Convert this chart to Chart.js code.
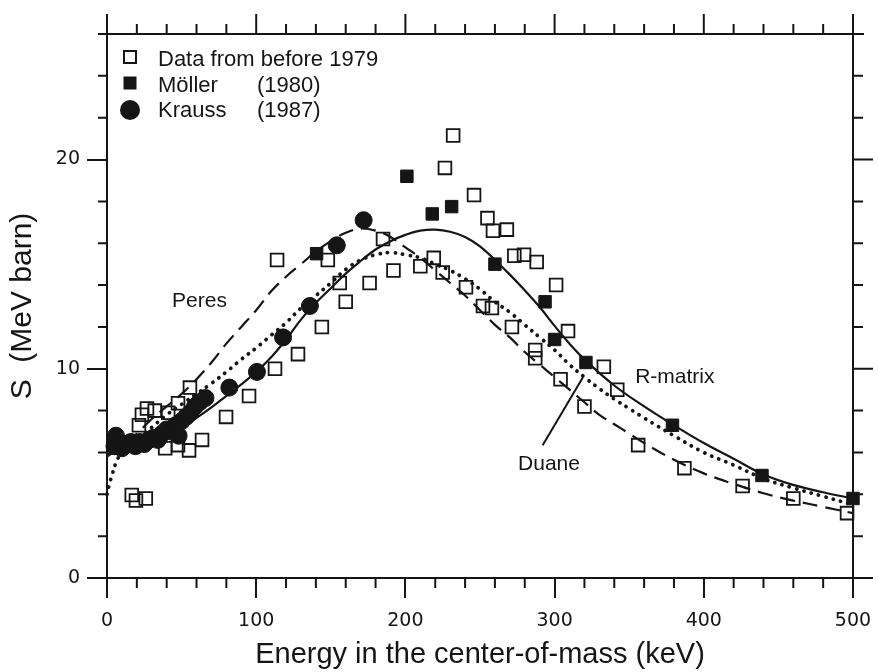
<!DOCTYPE html>
<html>
<head>
<meta charset="utf-8">
<script src="https://cdn.jsdelivr.net/npm/chart.js@4.4.1/dist/chart.umd.min.js"></script>
<style>
  html, body { margin: 0; padding: 0; background: #fff; }
  #wrap { width: 878px; height: 672px; }
</style>
</head>
<body>
<div id="wrap"><canvas id="sfactor" width="878" height="672"></canvas></div>
<script>
const ink = '#151515';

// theory curves (energy keV, S in MeV barn)
const rmatrixE = [0, 10, 20, 30, 40, 50, 60, 70, 80, 90, 100, 110, 120, 130, 140, 150, 160, 170, 180, 190, 200, 210, 220, 230, 240, 250, 260, 270, 280, 290, 300, 310, 320, 340, 360, 380, 400, 420, 440, 460, 480, 500];
const rmatrixS = [5.9, 6.05, 6.25, 6.5, 6.8, 7.2, 7.65, 8.15, 8.7, 9.25, 9.85, 10.55, 11.4, 12.35, 13.15, 13.85, 14.55, 15.15, 15.7, 16.1, 16.4, 16.6, 16.65, 16.55, 16.3, 15.85, 15.2, 14.5, 13.75, 12.95, 12.05, 11.2, 10.45, 9.2, 8.2, 7.3, 6.45, 5.7, 4.95, 4.45, 4.1, 3.8];

const duaneE = [0, 1.5, 3.5, 6, 10, 20, 30, 40, 50, 60, 70, 80, 90, 100, 110, 120, 130, 140, 150, 160, 170, 180, 190, 200, 210, 220, 230, 240, 250, 260, 270, 280, 290, 300, 310, 320, 330, 340, 350, 360, 380, 400, 420, 440, 460, 480, 500];
const duaneS = [4.0, 4.45, 4.95, 5.5, 6.0, 6.6, 7.2, 7.8, 8.3, 8.8, 9.3, 9.85, 10.45, 11.0, 11.6, 12.2, 12.9, 13.5, 14.1, 14.75, 15.2, 15.45, 15.55, 15.45, 15.3, 15.0, 14.7, 14.3, 13.8, 13.2, 12.7, 12.1, 11.5, 10.9, 10.2, 9.6, 9.05, 8.55, 8.1, 7.65, 6.8, 6.0, 5.4, 4.75, 4.3, 3.9, 3.5];

const peresE = [0, 10, 20, 30, 40, 50, 60, 70, 80, 90, 100, 110, 120, 130, 140, 150, 160, 170, 180, 190, 200, 210, 220, 230, 240, 250, 260, 270, 280, 290, 300, 310, 320, 330, 340, 350, 360, 380, 400, 420, 440, 460, 480, 500];
const peresS = [5.8, 6.3, 6.9, 7.6, 8.2, 8.8, 9.5, 10.3, 11.2, 12.0, 12.8, 13.7, 14.4, 15.0, 15.6, 16.1, 16.5, 16.7, 16.6, 16.3, 15.8, 15.3, 14.7, 14.1, 13.5, 12.8, 12.1, 11.5, 10.8, 10.2, 9.6, 9.0, 8.4, 7.8, 7.35, 6.9, 6.45, 5.65, 5.0, 4.5, 4.05, 3.7, 3.4, 3.1];

// measurements
const oldE = [16.6, 19.4, 26, 21.4, 23.4, 26.8, 32, 41, 47.6, 55.6, 39, 47.6, 55, 63.7, 79.8, 95.2, 112.6, 128, 144, 160, 156, 148, 114, 176, 185, 192, 210, 219, 225, 240.6, 232, 226.5, 246, 255, 258.7, 268, 273, 279.5, 288, 301, 252, 258, 271.4, 309, 287, 287, 304, 333, 342, 320, 356, 387, 426, 460, 496];
const oldS = [3.97, 3.7, 3.8, 7.3, 7.8, 8.1, 8.0, 7.9, 8.35, 9.1, 6.2, 6.35, 6.1, 6.6, 7.7, 8.7, 10.0, 10.7, 12.0, 13.2, 14.1, 15.2, 15.2, 14.1, 16.2, 14.7, 14.9, 15.3, 14.6, 13.9, 21.15, 19.6, 18.3, 17.2, 16.6, 16.65, 15.4, 15.45, 15.1, 14.0, 13.0, 12.9, 12.0, 11.8, 10.9, 10.5, 9.5, 10.1, 9.0, 8.2, 6.35, 5.25, 4.4, 3.8, 3.1];

const mollerE = [140.5, 201, 218, 231, 260, 293.6, 300, 321, 379, 439, 500];
const mollerS = [15.5, 19.2, 17.4, 17.75, 15.0, 13.2, 11.4, 10.3, 7.3, 4.9, 3.8];

const kraussE = [5, 6, 8, 10, 13, 16, 19, 22, 25, 28, 31, 34, 37, 40, 43, 46, 48, 50, 53, 56, 59, 62, 66, 82, 100.5, 118, 136, 154, 172];
const kraussS = [6.3, 6.8, 6.5, 6.2, 6.4, 6.5, 6.3, 6.5, 6.4, 6.6, 6.7, 6.6, 6.9, 7.1, 7.0, 7.3, 6.8, 7.5, 7.7, 7.9, 8.2, 8.4, 8.6, 9.1, 9.85, 11.5, 13.0, 15.9, 17.1];

const pts = (xs, ys) => xs.map((v, i) => ({ x: v, y: ys[i] }));

Chart.defaults.font.family = "'Liberation Sans', Arial, sans-serif";
Chart.defaults.color = ink;

// frame, minor ticks, legend and curve labels
const frame = {
  id: 'frame',
  afterDraw(chart) {
    const { ctx, scales: { x, y } } = chart;
    const L = x.getPixelForValue(0), R = x.getPixelForValue(500);
    const B = y.getPixelForValue(0), T = y.getPixelForValue(26);
    ctx.save();
    ctx.strokeStyle = ink;
    ctx.lineWidth = 2;
    ctx.beginPath();
    ctx.moveTo(L - 9, T); ctx.lineTo(R + 11, T);
    ctx.moveTo(R, T - 20); ctx.lineTo(R, B);
    for (let e = 0; e <= 500; e += 20) {
      const px = x.getPixelForValue(e);
      const major = e % 100 === 0;
      ctx.moveTo(px, T); ctx.lineTo(px, T - (major ? 20 : 10));
      if (!major) { ctx.moveTo(px, B); ctx.lineTo(px, B + 10); }
    }
    for (let s = 0; s < 26; s += 2) {
      const py = y.getPixelForValue(s);
      const major = s % 10 === 0;
      ctx.moveTo(R, py); ctx.lineTo(R + (major ? 20 : 10), py);
      if (!major) { ctx.moveTo(L, py); ctx.lineTo(L - 9, py); }
    }
    // pointer from "Duane" to its curve
    ctx.moveTo(x.getPixelForValue(292), y.getPixelForValue(6.35));
    ctx.lineTo(x.getPixelForValue(319), y.getPixelForValue(9.6));
    ctx.stroke();

    // legend
    ctx.fillStyle = ink;
    ctx.lineWidth = 2;
    ctx.strokeRect(L + 17, 51, 12, 12);
    ctx.fillRect(L + 16.5, 76.5, 13, 13);
    ctx.beginPath();
    ctx.arc(L + 23, 110, 10, 0, Math.PI * 2);
    ctx.fill();
    ctx.font = "22px 'Liberation Sans', Arial, sans-serif";
    ctx.textBaseline = 'middle';
    ctx.textAlign = 'left';
    ctx.fillText('Data from before 1979', L + 51, 60);
    ctx.fillText('Möller', L + 51, 86);
    ctx.fillText('(1980)', L + 150, 86);
    ctx.fillText('Krauss', L + 51, 111);
    ctx.fillText('(1987)', L + 150, 111);

    // curve names
    ctx.font = "21px 'Liberation Sans', Arial, sans-serif";
    ctx.fillText('Peres', x.getPixelForValue(43.6), y.getPixelForValue(13.25));
    ctx.fillText('R-matrix', x.getPixelForValue(354), y.getPixelForValue(9.6));
    ctx.fillText('Duane', x.getPixelForValue(275.5), y.getPixelForValue(5.45));
    ctx.restore();
  }
};

new Chart(document.getElementById('sfactor'), {
  type: 'scatter',
  data: {
    datasets: [
      {
        label: 'Krauss (1987)',
        data: pts(kraussE, kraussS),
        pointStyle: 'circle',
        pointRadius: 8.5,
        backgroundColor: ink,
        borderColor: ink,
        borderWidth: 1,
        order: 0,
      },
      {
        label: 'Möller (1980)',
        data: pts(mollerE, mollerS),
        pointStyle: 'rect',
        pointRadius: 8.8,
        backgroundColor: ink,
        borderColor: ink,
        borderWidth: 1,
        order: 1,
      },
      {
        label: 'Data from before 1979',
        data: pts(oldE, oldS),
        pointStyle: 'rect',
        pointRadius: 9,
        backgroundColor: 'rgba(0,0,0,0)',
        borderColor: ink,
        borderWidth: 1.8,
        order: 2,
      },
      {
        label: 'R-matrix',
        data: pts(rmatrixE, rmatrixS),
        showLine: true,
        pointRadius: 0,
        borderColor: ink,
        borderWidth: 2.2,
        tension: 0.4,
        order: 3,
      },
      {
        label: 'Duane',
        data: pts(duaneE, duaneS),
        showLine: true,
        pointRadius: 0,
        borderColor: ink,
        borderWidth: 3.8,
        borderDash: [0.1, 7.5],
        borderCapStyle: 'round',
        tension: 0.4,
        order: 4,
      },
      {
        label: 'Peres',
        data: pts(peresE, peresS),
        showLine: true,
        pointRadius: 0,
        borderColor: ink,
        borderWidth: 2.2,
        borderDash: [15, 8],
        tension: 0.4,
        order: 5,
      },
    ],
  },
  options: {
    responsive: false,
    animation: false,
    clip: false,
    layout: { padding: { top: 34, right: 25, left: 0, bottom: 0 } },
    plugins: {
      legend: { display: false },
      tooltip: { enabled: false },
    },
    scales: {
      x: {
        type: 'linear',
        min: 0,
        max: 500,
        afterFit: s => { s.height = 94; s.paddingLeft = 0; s.paddingRight = 0; },
        border: { display: true, color: ink, width: 2 },
        grid: { drawOnChartArea: false, tickLength: 20, color: ink, lineWidth: 2 },
        ticks: {
          stepSize: 100,
          padding: 12,
          color: ink,
          font: { family: "'DejaVu Sans'", size: 19 },
        },
        title: {
          display: true,
          text: 'Energy in the center-of-mass (keV)',
          color: ink,
          font: { size: 29 },
          padding: { top: 0, bottom: 0 },
        },
      },
      y: {
        type: 'linear',
        min: 0,
        max: 26,
        afterFit: s => { s.width = 107; s.paddingTop = 0; s.paddingBottom = 0; },
        border: { display: true, color: ink, width: 2 },
        grid: { drawOnChartArea: false, tickLength: 20, color: ink, lineWidth: 2 },
        ticks: {
          stepSize: 10,
          includeBounds: false,
          padding: 7,
          color: ink,
          font: { family: "'DejaVu Sans'", size: 19 },
        },
        title: {
          display: true,
          text: 'S  (MeV barn)',
          color: ink,
          font: { size: 30 },
          padding: { top: 5, bottom: 0 },
        },
      },
    },
  },
  plugins: [frame],
});
</script>
</body>
</html>
